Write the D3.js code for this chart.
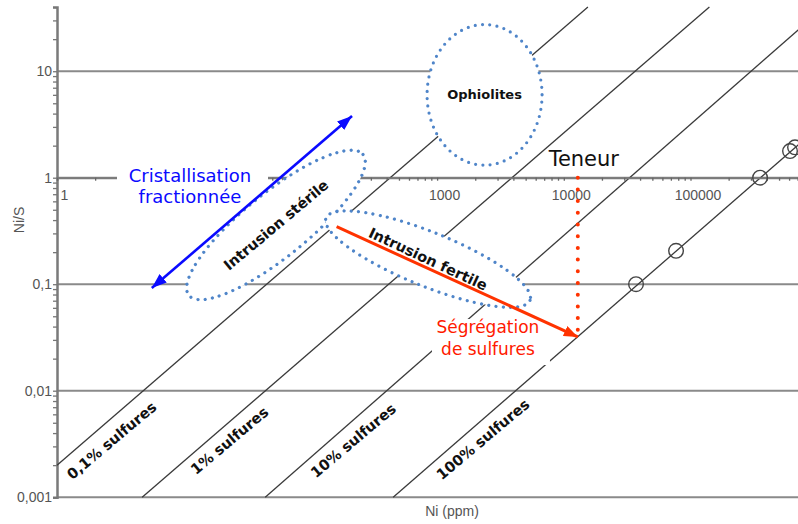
<!DOCTYPE html>
<html>
<head>
<meta charset="utf-8">
<script src="https://cdn.jsdelivr.net/npm/d3@7"></script>
<style>
  body { margin: 0; background: #fff; }
  svg { display: block; }
</style>
</head>
<body>
<svg id="chart" width="798" height="524"></svg>
<script>
// Ni/S ratio versus Ni grade, with lines of constant sulphide content

const xDecades = [1, 10, 100, 1000, 10000, 100000];
// the 10 and 100 labels sit under the annotation boxes, so they are left blank
const xTickLabels = ["1", "", "", "1000", "10000", "100000"];
const yDecades = [10, 1, 0.1, 0.01, 0.001];
const yTickLabels = ["10", "1", "0,1", "0,01", "0,001"];

// iso-sulphide lines, each from [Ni ppm, Ni/S] to [Ni ppm, Ni/S]
const sulfideNames = ["0,1% sulfures", "1% sulfures", "10% sulfures", "100% sulfures"];
const sulfideStart = [[1, 0.002], [4.7, 0.001], [44, 0.001], [450, 0.001]];
const sulfideEnd = [[15500, 40], [141000, 40], [1000000, 35], [1000000, 2.9]];
const sulfideLabelAt = [[2.7, 0.0034], [23, 0.0034], [218, 0.0034], [2300, 0.0035]];

// pure sulphide samples on the 100% line
const sampleNi = [37150, 76900, 354000, 610000, 668000];
const sampleNiS = [0.1, 0.206, 1, 1.78, 1.93];

// fields and trends
const fieldNames = ["Ophiolites", "Intrusion stérile", "Intrusion fertile"];
const fieldCentre = [[2370, 6.0], [53.5, 0.36], [848, 0.172]];
const crystTrend = [[5.6, 0.092], [213, 3.8]];
const segregTrend = [[161, 0.347], [12900, 0.032]];
const gradeNi = 12900;

const W = 798, H = 524;
const svg = d3.select("#chart");

const x = d3.scaleLog().domain([1, 1e6]).range([57, 57 + 6 * 126.7]);
const y = d3.scaleLog().domain([0.001, 40]).range([497.2, 7.1]);

const axisFont = "'Liberation Sans', Arial, sans-serif";
const annFont = "'DejaVu Sans', Verdana, sans-serif";

// horizontal grid at each decade
svg.append("g").selectAll("line").data(yDecades).join("line")
  .attr("x1", x(1)).attr("x2", W)
  .attr("y1", d => y(d)).attr("y2", d => y(d))
  .attr("stroke", "#8a8a8a").attr("stroke-width", 2);

// minor tick values
const xMinor = [];
xDecades.forEach(d => { for (let k = 1; k <= 9; k++) if (x(d * k) <= W) xMinor.push(d * k); });
const yMinor = [];
[0.001, 0.01, 0.1, 1].forEach(d => { for (let k = 1; k <= 9; k++) yMinor.push(d * k); });
[10, 20, 30, 40].forEach(v => yMinor.push(v));

const isDecade = v => Math.abs(Math.log10(v) - Math.round(Math.log10(v))) < 1e-9;

// y axis
const yAxis = svg.append("g").attr("transform", `translate(${x(1)},0)`)
  .call(d3.axisLeft(y).tickValues(yMinor).tickSize(4).tickPadding(1)
    .tickFormat(v => isDecade(v) ? yTickLabels[yDecades.findIndex(d => Math.abs(d - v) / d < 1e-6)] : ""));
yAxis.select(".domain").attr("stroke", "#7a7a7a").attr("stroke-width", 2.5);
yAxis.selectAll(".tick line").attr("stroke", "#777").attr("stroke-width", 1.3);
yAxis.selectAll(".tick text").attr("font-family", axisFont).attr("font-size", 14).attr("fill", "#555");

// diagonal iso-sulphide lines
svg.append("g").selectAll("line").data(sulfideNames).join("line")
  .attr("x1", (d, i) => x(sulfideStart[i][0])).attr("y1", (d, i) => y(sulfideStart[i][1]))
  .attr("x2", (d, i) => x(sulfideEnd[i][0])).attr("y2", (d, i) => y(sulfideEnd[i][1]))
  .attr("stroke", "#3a3a3a").attr("stroke-width", 1.3);

// x axis along Ni/S = 1
const xAxis = svg.append("g").attr("transform", `translate(0,${y(1)})`)
  .call(d3.axisBottom(x).tickValues(xMinor).tickSize(3).tickPadding(9)
    .tickFormat(v => isDecade(v) ? xTickLabels[xDecades.findIndex(d => Math.abs(d - v) / d < 1e-6)] : ""));
xAxis.select(".domain").attr("stroke", "#7a7a7a").attr("stroke-width", 2);
xAxis.selectAll(".tick line").attr("stroke", "#666").attr("stroke-width", 1.3);
xAxis.selectAll(".tick text").attr("x", 7).attr("font-family", axisFont).attr("font-size", 14).attr("fill", "#555");

// sample circles
svg.append("g").selectAll("circle").data(sampleNi).join("circle")
  .attr("cx", d => x(d)).attr("cy", (d, i) => y(sampleNiS[i])).attr("r", 7.3)
  .attr("fill", "none").attr("stroke", "#444").attr("stroke-width", 1.4);

// diagonal labels
svg.append("g").selectAll("text").data(sulfideNames).join("text")
  .attr("transform", (d, i) => `translate(${x(sulfideLabelAt[i][0])},${y(sulfideLabelAt[i][1])}) rotate(-40)`)
  .attr("text-anchor", "middle").attr("dy", "0.35em")
  .attr("font-family", annFont).attr("font-weight", "bold").attr("font-size", 14.5)
  .attr("fill", "#111").text(d => d);

// axis titles
svg.append("text").attr("x", 452).attr("y", 516).attr("text-anchor", "middle")
  .attr("font-family", axisFont).attr("font-size", 14).attr("fill", "#555").text("Ni (ppm)");
svg.append("text").attr("transform", "translate(24,220) rotate(-90)").attr("text-anchor", "middle")
  .attr("font-family", axisFont).attr("font-size", 14).attr("fill", "#555").text("Ni/S");

// markers
const defs = svg.append("defs");
function arrowMarker(id, colour, len, wid) {
  defs.append("marker").attr("id", id).attr("viewBox", `0 0 ${len} ${wid}`)
    .attr("refX", len).attr("refY", wid / 2).attr("markerWidth", len).attr("markerHeight", wid)
    .attr("markerUnits", "userSpaceOnUse").attr("orient", "auto-start-reverse")
    .append("path").attr("d", `M0,0L${len},${wid / 2}L0,${wid}Z`).attr("fill", colour);
}
arrowMarker("blueHead", "#0a0aff", 15, 11);
arrowMarker("redHead", "#ff3300", 14, 11);

// "Cristallisation fractionnée" label with white box
const cx0 = x(11.2), cy0 = y(1);
svg.append("rect").attr("x", 117).attr("y", cy0 - 18).attr("width", 151).attr("height", 50).attr("fill", "#fff");
const cryst = svg.append("text").attr("text-anchor", "middle")
  .attr("font-family", annFont).attr("font-size", 18).attr("fill", "#0a0aff");
cryst.append("tspan").attr("x", cx0).attr("y", cy0 + 4).text("Cristallisation");
cryst.append("tspan").attr("x", cx0).attr("y", cy0 + 25).text("fractionnée");

// "Ségrégation de sulfures" with white box
const sx0 = x(2520), sy0 = y(0.0348);
svg.append("rect").attr("x", sx0 - 56).attr("y", sy0 - 14).attr("width", 118).attr("height", 46).attr("fill", "#fff");
const seg = svg.append("text").attr("text-anchor", "middle")
  .attr("font-family", annFont).attr("font-size", 17).attr("fill", "#ff1a00");
seg.append("tspan").attr("x", sx0).attr("y", sy0).text("Ségrégation");
seg.append("tspan").attr("x", sx0).attr("y", sy0 + 22).text("de sulfures");

// field ellipses
const ellipseSpec = [
  { rx: 57.5, ry: 70.3, rot: 0, textRot: 0, size: 13 },
  { rx: 112, ry: 32, rot: -39, textRot: -40, size: 14.5 },
  { rx: 110, ry: 27, rot: 22, textRot: 25, size: 14.5 }
];
const fields = svg.append("g").selectAll("g").data(fieldNames).join("g")
  .attr("transform", (d, i) => `translate(${x(fieldCentre[i][0])},${y(fieldCentre[i][1])})`);
fields.append("ellipse")
  .attr("rx", (d, i) => ellipseSpec[i].rx).attr("ry", (d, i) => ellipseSpec[i].ry)
  .attr("transform", (d, i) => `rotate(${ellipseSpec[i].rot})`)
  .attr("fill", "#fff").attr("stroke", "#4f85c9").attr("stroke-width", 3.2)
  .attr("stroke-linecap", "round").attr("stroke-dasharray", "0 7.3");
fields.append("text")
  .attr("transform", (d, i) => `rotate(${ellipseSpec[i].textRot})`)
  .attr("text-anchor", "middle").attr("dy", "0.35em")
  .attr("font-family", annFont).attr("font-weight", "bold")
  .attr("font-size", (d, i) => ellipseSpec[i].size)
  .attr("fill", "#111").text(d => d);

// crystallisation trend (double-headed)
svg.append("line")
  .attr("x1", x(crystTrend[0][0])).attr("y1", y(crystTrend[0][1]))
  .attr("x2", x(crystTrend[1][0])).attr("y2", y(crystTrend[1][1]))
  .attr("stroke", "#0a0aff").attr("stroke-width", 2.6)
  .attr("marker-start", "url(#blueHead)").attr("marker-end", "url(#blueHead)");

// grade marker (dotted vertical)
svg.append("line")
  .attr("x1", x(gradeNi)).attr("x2", x(gradeNi))
  .attr("y1", y(1)).attr("y2", y(segregTrend[1][1]) - 4)
  .attr("stroke", "#ff3300").attr("stroke-width", 4)
  .attr("stroke-linecap", "round").attr("stroke-dasharray", "0 11.7");

// segregation trend
svg.append("line")
  .attr("x1", x(segregTrend[0][0])).attr("y1", y(segregTrend[0][1]))
  .attr("x2", x(segregTrend[1][0])).attr("y2", y(segregTrend[1][1]))
  .attr("stroke", "#ff3300").attr("stroke-width", 3)
  .attr("marker-end", "url(#redHead)");

// "Teneur"
svg.append("text").attr("x", x(gradeNi) + 6).attr("y", y(1) - 12).attr("text-anchor", "middle")
  .attr("font-family", annFont).attr("font-size", 21).attr("fill", "#111").text("Teneur");
</script>
</body>
</html>
